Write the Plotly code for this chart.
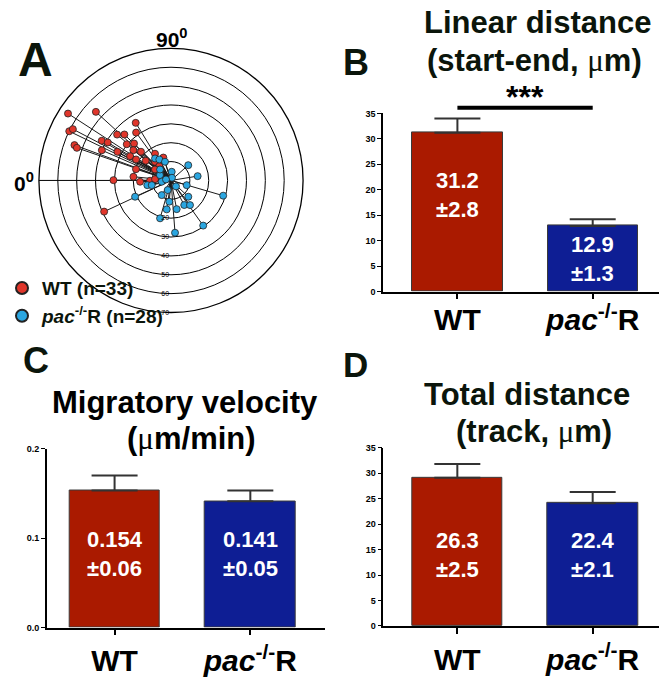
import plotly.graph_objects as go

W, H = 659, 695
FONT = "Liberation Sans, Arial, sans-serif"
DARK = "#0b150b"

# ---------------- Panel A : polar tracks (end points, r in um, theta in deg) -------------
wt_r = [65.1, 53.9, 59.9, 58.7, 54.5, 52.8, 35.8, 31.4, 37.5, 34.7, 42.3, 39.1, 30.3, 27.7,
        40.0, 32.2, 25.6, 22.0, 16.5, 25.2, 21.6, 17.0, 19.5, 13.0, 9.8, 10.3, 20.0, 30.5,
        16.4, 11.1, 8.5, 39.1, 12.8]
wt_theta = [33.0, 42.4, 25.8, 27.6, 20.1, 19.1, 58.5, 53.9, 40.4, 44.6, 29.8, 31.0, 39.3, 45.0,
            23.6, 28.1, 38.8, 43.7, 59.1, 30.7, 31.0, 37.9, 17.9, 49.4, 50.7, 34.5, 5.6, 0.3,
            357.6, 359.2, 4.6, 335.0, 71.5]
pac_r = [14.4, 12.7, 10.4, 4.6, 6.5, 12.2, 14.3, 1.5, 5.0, 8.7, 12.8, 10.5, 20.9, 9.2,
         11.3, 12.6, 14.8, 16.5, 15.5, 15.5, 28.8, 20.9, 29.4, 27.8, 8.2, 2.7, 4.1, 5.4]
pac_theta = [54.0, 60.9, 72.2, 94.6, 25.7, 138.5, 170.8, 110.0, 352.0, 196.7, 348.8, 346.3,
             335.6, 302.3, 274.6, 223.3, 241.7, 232.4, 278.4, 258.8, 196.3, 286.1, 234.5,
             265.6, 45.0, 11.0, 230.0, 289.0]
ring_vals = [10, 20, 30, 40, 50, 60, 70]
ring_text = ["", "20", "30", "40", "50", "60", "70"]
r_max = 70
zero_dir = 0

# ---------------- Panels B, C, D : bars -------------
groups = ["WT", "pac"]
group_ticktext = ["WT", "<i>pac</i><sup>-/-</sup>R"]
colors = ["#AA1A00", "#0E1E94"]

lin_mean = [31.2, 12.9]
lin_err = [2.8, 1.3]
lin_text = ["31.2<br>±2.8", "12.9<br>±1.3"]

vel_mean = [0.153, 0.141]
vel_err = [0.017, 0.012]
vel_text = ["0.154<br>±0.06", "0.141<br>±0.05"]

tot_mean = [29.1, 24.1]
tot_err = [2.7, 2.2]
tot_text = ["26.3<br>±2.5", "22.4<br>±2.1"]

MU = "<span style=\"font-family:'Liberation Serif',serif;font-weight:normal\">μ</span>"


def px(x):
    return x / W


def py(y):
    return 1 - y / H


fig = go.Figure()


def spokes(rs, ths):
    rr, tt = [], []
    for r, t in zip(rs, ths):
        rr += [0, r, None]
        tt += [t, t, None]
    return rr, tt


fig.add_trace(go.Scatterpolar(r=[0, r_max], theta=[zero_dir, zero_dir], mode="lines",
                              line=dict(color="black", width=1), showlegend=False,
                              hoverinfo="skip"))
for rs, ths in [(wt_r, wt_theta), (pac_r, pac_theta)]:
    rr, tt = spokes(rs, ths)
    fig.add_trace(go.Scatterpolar(r=rr, theta=tt, mode="lines",
                                  line=dict(color="#1a1a1a", width=1), showlegend=False,
                                  hoverinfo="skip", connectgaps=False))
fig.add_trace(go.Scatterpolar(r=wt_r, theta=wt_theta, mode="markers", name="WT (n=33)",
                              marker=dict(size=7, color="#E0362B",
                                          line=dict(color="#222", width=0.8))))
fig.add_trace(go.Scatterpolar(r=pac_r, theta=pac_theta, mode="markers",
                              name="<i>pac</i><sup>-/-</sup>R (n=28)",
                              marker=dict(size=7, color="#2BA6E0",
                                          line=dict(color="#222", width=0.8))))


def add_bars(xa, ya, means, errs):
    fig.add_trace(go.Bar(x=groups, y=means, xaxis=xa, yaxis=ya, width=0.667,
                         marker=dict(color=colors, line=dict(color="#3a3a3a", width=1)),
                         error_y=dict(type="data", array=errs, arrayminus=[0, 0],
                                      symmetric=False, color="#333", thickness=2, width=23),
                         showlegend=False))


add_bars("x", "y", lin_mean, lin_err)
add_bars("x2", "y2", vel_mean, vel_err)
add_bars("x3", "y3", tot_mean, tot_err)


def xax(d0, d1, rng, anchor, standoff=0):
    return dict(domain=[d0, d1], anchor=anchor, range=rng, type="category",
                showline=True, linecolor="black", linewidth=1.5, ticks="outside",
                ticklen=6, tickwidth=1.5, tickcolor="black", tickvals=groups,
                ticktext=group_ticktext, showgrid=False, zeroline=False,
                ticklabelstandoff=standoff,
                tickfont=dict(size=30, family=FONT, color="black", weight="bold"))


def yax(d0, d1, rng, tickvals, fmt, anchor):
    return dict(domain=[d0, d1], anchor=anchor, range=rng, tickvals=tickvals,
                tickformat=fmt, showline=True, linecolor="black", linewidth=1.5,
                ticks="outside", ticklen=4, tickwidth=1.2, tickcolor="black",
                showgrid=False, zeroline=False,
                tickfont=dict(size=9, family=FONT, color="black", weight="bold"))


ticks35 = [0, 5, 10, 15, 20, 25, 30, 35]
fig.update_layout(
    xaxis=xax(px(383), 1.0, [-0.55, 1.49], "y", standoff=-5),
    yaxis=yax(py(290.7), py(110), [0, 35], ticks35, "d", "x"),
    xaxis2=xax(px(46.7), px(325), [-0.5, 1.55], "y2"),
    yaxis2=yax(py(631.7), py(450), [0, 0.2], [0, 0.1, 0.2], ".1f", "x2"),
    xaxis3=xax(px(383.3), 1.0, [-0.547, 1.49], "y3"),
    yaxis3=yax(py(630), py(449.3), [0, 35], ticks35, "d", "x3"),
    polar=dict(
        domain=dict(x=[px(37), px(305)], y=[py(312), py(44)]),
        bgcolor="rgba(0,0,0,0)",
        angularaxis=dict(rotation=180, direction="clockwise", showgrid=False,
                         showticklabels=False, ticks="", showline=True,
                         linecolor="black", linewidth=1.3),
        radialaxis=dict(range=[0, r_max], tickvals=ring_vals, ticktext=ring_text,
                        showgrid=True, gridcolor="black", gridwidth=1.2, showline=False,
                        ticks="", angle=270, tickangle=-90,
                        tickfont=dict(size=7, family=FONT, color="black")),
    ),
)


def ann(text, x, y, size, color=DARK, xref="paper", yref="paper", **kw):
    fig.add_annotation(text=text, x=x, y=y, xref=xref, yref=yref, showarrow=False,
                       font=dict(size=size, family=FONT, color=color, weight="bold"),
                       xanchor=kw.get("xanchor", "center"), yanchor=kw.get("yanchor", "middle"))


# panel letters
ann("A", px(35), py(55), 48)
ann("B", px(356), py(58), 36)
ann("C", px(36), py(361), 36)
ann("D", px(356), py(365), 35)
# polar direction labels
ann("90<sup>0</sup>", px(172), py(33), 21, color="black")
ann("0<sup>0</sup>", px(24), py(180), 21, color="black")
# titles
ann("Linear distance", px(537), py(18), 31)
ann("(start-end, " + MU + "m)", px(534), py(56), 31)
ann("Migratory velocity", px(185), py(403), 31, color="black")
ann("(" + MU + "m/min)", px(191), py(440), 31, color="black")
ann("Total distance", px(527), py(395), 31)
ann("(track, " + MU + "m)", px(534), py(433), 31)
# significance
fig.add_shape(type="line", xref="x", yref="paper", x0=0, x1=1, y0=py(104.3), y1=py(104.3),
              line=dict(color="black", width=4))
ann("***", 0.5, py(93), 32, color="black", xref="x")

# value labels inside bars
lin_label_y = [19.0, 6.3]
vel_label_y = [0.0822, 0.0822]
tot_label_y = [13.9, 13.9]
for xa, ya, texts, ys in [("x", "y", lin_text, lin_label_y), ("x2", "y2", vel_text, vel_label_y),
                          ("x3", "y3", tot_text, tot_label_y)]:
    for g, t, yv in zip(groups, texts, ys):
        ann(t, g, yv, 22, color="white", xref=xa, yref=ya)

fig.update_layout(
    width=W, height=H, margin=dict(l=0, r=0, t=0, b=0),
    paper_bgcolor="white", plot_bgcolor="rgba(0,0,0,0)",
    font=dict(family=FONT, color="black"),
    bargap=0,
    legend=dict(x=px(2), y=py(268), xanchor="left", yanchor="top",
                bgcolor="rgba(0,0,0,0)", itemwidth=30, tracegroupgap=0,
                itemsizing="constant",
                font=dict(size=19, family=FONT, color=DARK, weight="bold")),
)

fig.write_html("out.html", config={"displayModeBar": False},
               post_script="document.body.style.margin='0';document.body.style.overflow='hidden';")
